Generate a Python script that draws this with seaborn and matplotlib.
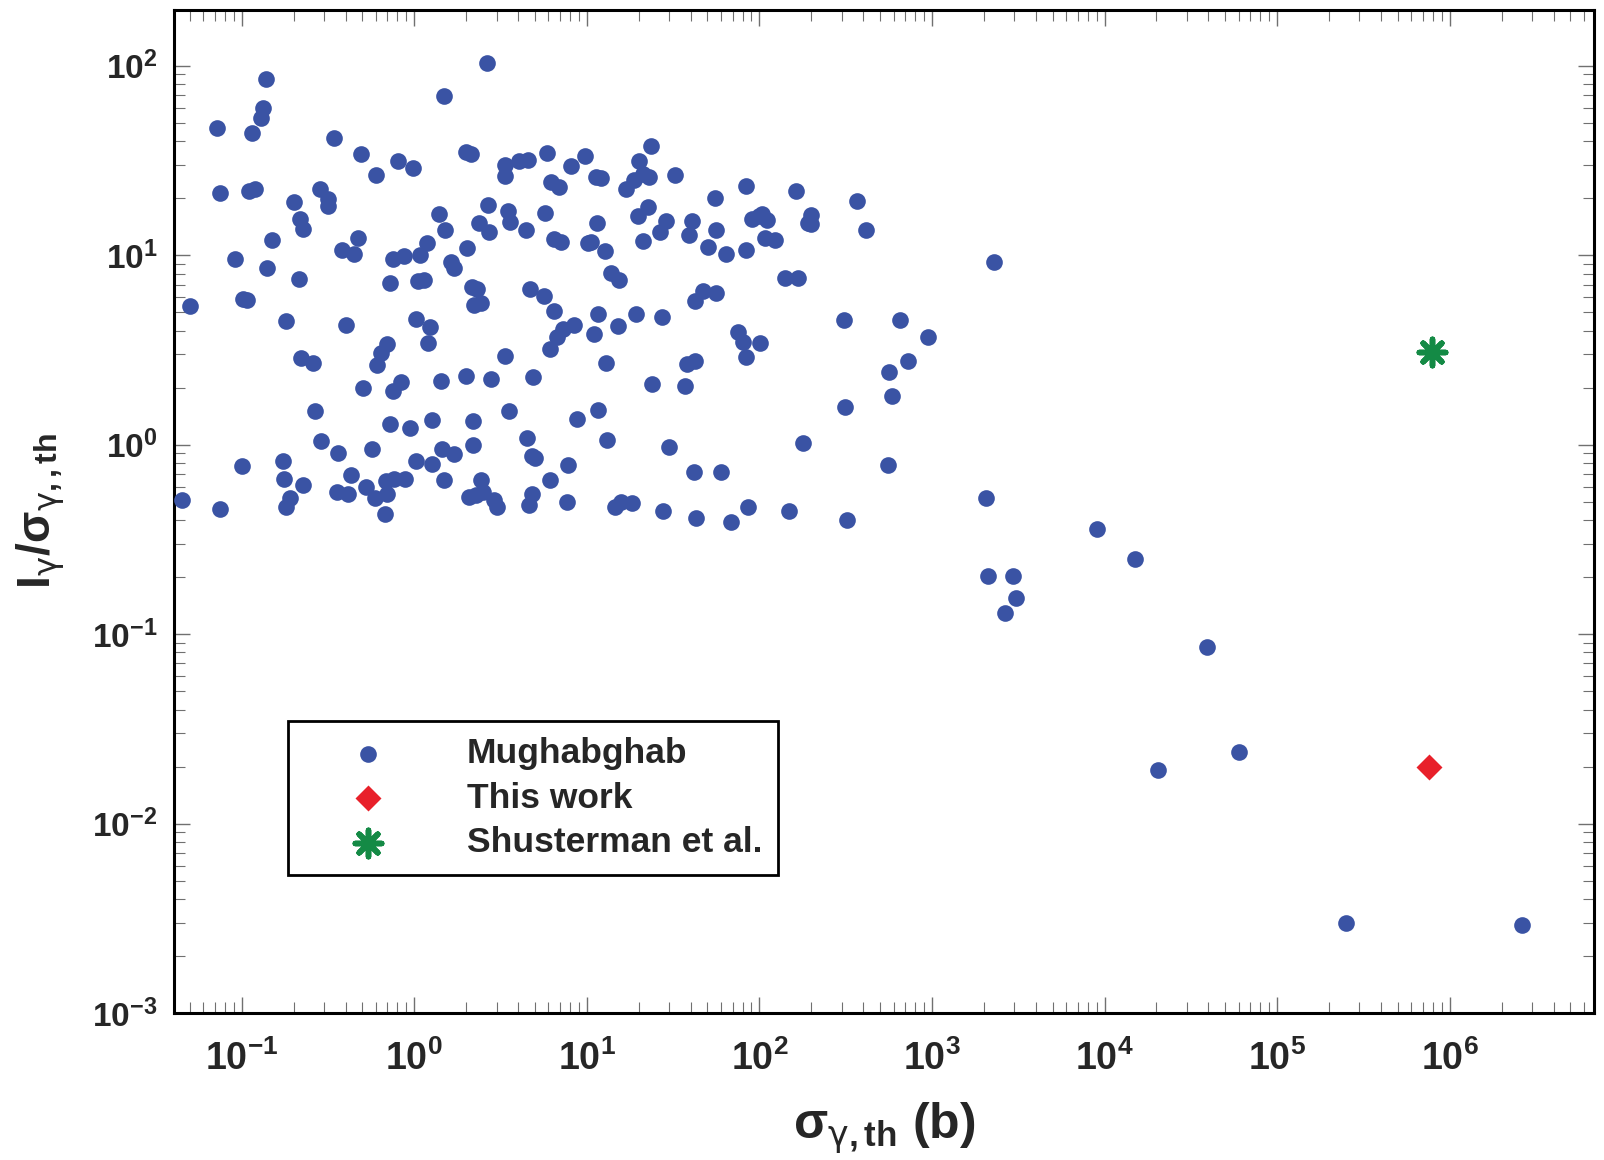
import matplotlib
matplotlib.use("Agg")
import matplotlib.pyplot as plt
import numpy as np
import pandas as pd
import seaborn as sns
from matplotlib import font_manager
from matplotlib.ticker import FuncFormatter, NullFormatter, LogLocator

series_names = ["Mughabghab", "This work", "Shusterman et al."]

x_mugh = [
    0.045, 0.050, 0.072, 0.075, 0.075, 0.091, 0.101, 0.102, 0.108, 0.115,
    0.111, 0.120, 0.130, 0.133, 0.139, 0.141, 0.151, 0.173, 0.177, 0.180,
    0.180, 0.190, 0.201, 0.215, 0.218, 0.227, 0.221, 0.227, 0.260, 0.267,
    0.290, 0.286, 0.315, 0.315, 0.342, 0.361, 0.355, 0.381, 0.402, 0.414,
    0.431, 0.449, 0.474, 0.494, 0.507, 0.529, 0.566, 0.590, 0.598, 0.606,
    0.640, 0.676, 0.685, 0.695, 0.695, 0.724, 0.724, 0.754, 0.754, 0.764,
    0.807, 0.841, 0.876, 0.888, 0.951, 0.990, 1.02, 1.02, 1.05, 1.075,
    1.135, 1.18, 1.23, 1.20, 1.27, 1.27, 1.39, 1.43, 1.45, 1.49,
    1.49, 1.51, 1.64, 1.69, 1.69, 1.99, 1.99, 2.01, 2.07, 2.13,
    2.16, 2.19, 2.19, 2.22, 2.28, 2.31, 2.37, 2.44, 2.44, 2.50,
    2.65, 2.68, 2.72, 2.80, 2.91, 3.03, 3.38, 3.38, 3.38, 3.48,
    3.57, 3.52, 4.04, 4.45, 4.57, 4.51, 4.63, 4.70, 4.83, 4.89,
    4.83, 5.03, 5.68, 5.76, 5.92, 6.09, 6.09, 6.17, 6.43, 6.43,
    6.70, 6.88, 7.07, 7.27, 7.67, 7.78, 8.10, 8.45, 8.80, 9.81,
    10.1, 10.65, 10.95, 11.25, 11.4, 11.56, 11.56, 12.04, 12.7, 12.9,
    13.07, 13.8, 14.6, 15.2, 15.4, 15.8, 16.9, 18.4, 18.9, 19.4,
    19.7, 20.2, 21.1, 21.1, 22.6, 22.9, 23.5, 23.8, 26.6, 27.3,
    27.7, 28.8, 30.0, 32.6, 36.9, 37.9, 38.9, 40.6, 41.7, 42.3,
    42.3, 42.8, 47.1, 50.5, 55.5, 56.3, 56.3, 60.3, 64.5, 68.1,
    75.0, 80.3, 83.6, 83.6, 83.6, 85.9, 90.8, 100, 101, 104,
    108, 110, 124, 141, 148, 163, 168, 180, 192, 200,
    200, 310, 314, 370, 413, 324, 565, 557, 589, 657,
    723, 950, 2070, 2125, 2275, 2644, 2950, 3070, 9030, 15000,
    20500, 39400, 60200, 252000, 2.64e6,
]
y_mugh = [
    0.51, 5.4, 47, 21.3, 0.46, 9.5, 0.77, 5.9, 5.8, 44,
    21.8, 22.4, 53, 60, 85, 8.6, 12.0, 0.82, 0.66, 4.5,
    0.47, 0.52, 19.0, 7.5, 15.6, 13.8, 2.87, 0.61, 2.70, 1.51,
    1.04, 22.4, 19.7, 18.1, 41.6, 0.90, 0.56, 10.6, 4.28, 0.55,
    0.69, 10.2, 12.3, 34.1, 1.98, 0.60, 0.95, 0.52, 26.6, 2.63,
    3.06, 0.43, 0.64, 3.38, 0.55, 7.12, 1.28, 1.93, 9.6, 0.66,
    31.3, 2.13, 9.96, 0.66, 1.23, 29.0, 4.61, 0.82, 7.30, 10.0,
    7.39, 11.56, 4.17, 3.46, 1.35, 0.79, 16.6, 2.16, 0.95, 69.3,
    0.65, 13.6, 9.25, 8.6, 0.89, 2.30, 35.0, 10.9, 0.53, 34.1,
    6.78, 1.33, 1.0, 5.49, 0.54, 6.61, 14.8, 0.65, 5.62, 0.56,
    103, 18.5, 13.3, 2.21, 0.51, 0.47, 2.94, 29.8, 26.3, 17.2,
    15.0, 1.51, 31.3, 13.6, 32.0, 1.09, 0.48, 6.61, 0.87, 2.27,
    0.55, 0.85, 6.06, 16.8, 34.5, 3.18, 0.65, 24.4, 12.2, 5.09,
    3.69, 22.9, 11.7, 4.07, 0.50, 0.78, 29.4, 4.28, 1.36, 33.3,
    11.56, 11.7, 3.82, 25.9, 14.8, 4.9, 1.52, 25.6, 10.5, 2.70,
    1.06, 8.07, 0.47, 4.22, 7.39, 0.50, 22.4, 0.49, 25.0, 4.9,
    16.2, 31.3, 26.9, 11.86, 17.9, 25.9, 37.7, 2.08, 13.3, 4.72,
    0.445, 15.2, 0.97, 26.6, 2.05, 2.67, 12.8, 15.2, 0.72, 5.76,
    2.77, 0.41, 6.5, 11.0, 20.0, 6.3, 13.6, 0.72, 10.2, 0.39,
    3.92, 3.5, 10.6, 2.9, 23.2, 0.47, 15.6, 16.2, 3.46, 16.6,
    12.3, 15.4, 12.0, 7.6, 0.445, 21.8, 7.6, 1.02, 14.8, 16.4,
    14.6, 4.55, 1.58, 19.3, 13.6, 0.40, 2.41, 0.78, 1.81, 4.55,
    2.77, 3.7, 0.52, 0.203, 9.25, 0.13, 0.203, 0.155, 0.36, 0.25,
    0.0192, 0.085, 0.024, 0.0030, 0.0029,
]

x_this = [7.6e5]
y_this = [0.020]

x_shus = [7.9e5]
y_shus = [3.1]

x_decades = [-1, 0, 1, 2, 3, 4, 5, 6]
y_decades = [-3, -2, -1, 0, 1, 2]

# style .............................................................
sns.set_style("ticks")
names = {f.name for f in font_manager.fontManager.ttflist}
narrow = "Liberation Sans Narrow" if "Liberation Sans Narrow" in names else "Liberation Sans"
plt.rcParams["font.family"] = ["Liberation Sans", "DejaVu Sans"]
plt.rcParams["mathtext.fontset"] = "custom"
plt.rcParams["mathtext.rm"] = narrow + ":bold"
plt.rcParams["mathtext.bf"] = "Liberation Sans:bold"
plt.rcParams["mathtext.it"] = "Liberation Sans:italic"
plt.rcParams["mathtext.sf"] = "DejaVu Sans"   # only used for the gamma glyph

blue, red, green = "#3a53a4", "#e8202a", "#148a45"

# figure ............................................................
fig, ax = plt.subplots(figsize=(16.04, 11.6), dpi=100, facecolor="white")
fig.subplots_adjust(left=0.1085, right=0.9938, top=0.9914, bottom=0.1267)

df = pd.DataFrame({"x": x_mugh, "y": y_mugh})
sns.scatterplot(data=df, x="x", y="y", ax=ax, color=blue, s=144,
                linewidth=0, label=series_names[0], zorder=3)
sns.scatterplot(x=x_this, y=y_this, ax=ax, marker="D", color=red, s=175,
                linewidth=0, label=series_names[1], zorder=4)
sns.scatterplot(x=x_shus, y=y_shus, ax=ax, marker=(8, 2, 0), color=green,
                s=360, linewidth=4, label=series_names[2], zorder=4)

ax.set_xscale("log")
ax.set_yscale("log")
ax.set_xlim(0.0406, 6.86e6)
ax.set_ylim(1e-3, 197)

# ticks, all four sides, pointing in
ax.set_xticks([10.0 ** d for d in x_decades])
ax.set_yticks([10.0 ** d for d in y_decades])
for axis in (ax.xaxis, ax.yaxis):
    axis.set_minor_locator(LogLocator(base=10, subs=np.arange(2, 10), numticks=100))
    axis.set_minor_formatter(NullFormatter())
ax.xaxis.set_major_formatter(FuncFormatter(lambda v, p: r"$\mathrm{10^{%d}}$" % round(np.log10(v))))
ax.yaxis.set_major_formatter(FuncFormatter(lambda v, p: r"$\mathbf{10^{%d}}$" % round(np.log10(v))))

ax.tick_params(which="major", direction="in", length=11.5, width=1.0, color="#707070",
               top=True, right=True)
ax.tick_params(which="minor", direction="in", length=8, width=0.8, color="#707070",
               top=True, right=True)
ax.tick_params(axis="x", which="major", pad=20, labelsize=27)
ax.tick_params(axis="y", which="major", pad=12, labelsize=24)

for sp in ax.spines.values():
    sp.set_visible(True)
    sp.set_linewidth(2.2)
    sp.set_color("black")

# axes labels
ax.set_xlabel(r"$\mathrm{\sigma_{\mathsf{\gamma},th}\ (b)}$", fontsize=36, labelpad=16)
ax.set_ylabel(r"$\mathbf{I_{\mathsf{\gamma}}/\sigma_{\mathsf{\gamma},,th}}$", fontsize=33, labelpad=18)

# legend
leg = ax.legend(loc="lower left", bbox_to_anchor=(0.0803, 0.1376), borderaxespad=0,
                frameon=True, fancybox=False, framealpha=1, edgecolor="black",
                prop={"family": "Liberation Sans", "weight": "bold", "size": 25.5},
                borderpad=0.45, labelspacing=0.32, handlelength=3.6, handletextpad=1.0)
leg.get_frame().set_linewidth(2)

fig.savefig("out.png", dpi=100, facecolor="white")
